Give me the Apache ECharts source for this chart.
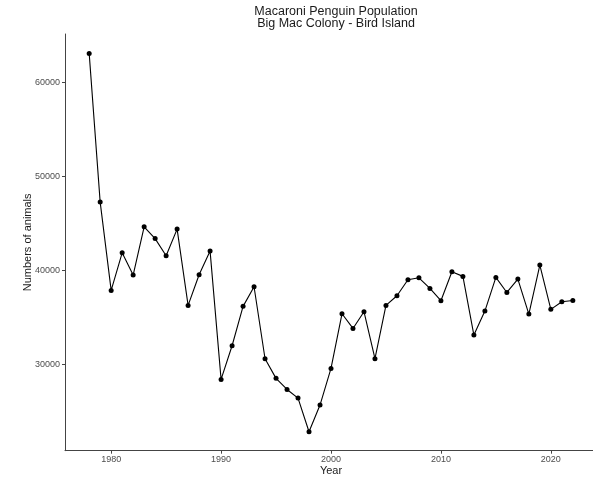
<!DOCTYPE html>
<html>
<head>
<meta charset="utf-8">
<script src="https://cdn.jsdelivr.net/npm/echarts@6/dist/echarts.min.js"></script>
<style>
  html, body { margin: 0; padding: 0; background: #ffffff; }
  #chart { width: 593px; height: 478px; }
</style>
</head>
<body>
<div id="chart"></div>
<script>
const years = [1978,1979,1980,1981,1982,1983,1984,1985,1986,1987,1988,1989,1990,1991,1992,1993,1994,1995,1996,1997,1998,1999,2000,2001,2002,2003,2004,2005,2006,2007,2008,2009,2010,2011,2012,2013,2014,2015,2016,2017,2018,2019,2020,2021,2022];
const counts = [63050,47230,37840,41840,39470,44600,43350,41520,44360,36240,39500,42020,28370,31950,36140,38230,30570,28480,27300,26380,22800,25640,29540,35350,33790,35570,30570,36240,37270,38970,39180,38050,36740,39820,39330,33090,35640,39220,37620,39040,35320,40530,35820,36630,36770];
const xTicks = [1980,1990,2000,2010,2020];
const yTicks = [30000,40000,50000,60000];
const titleLines = ['Macaroni Penguin Population', 'Big Mac Colony - Bird Island'];
const xName = 'Year';
const yName = 'Numbers of animals';

const FONT = '"Liberation Sans", Arial, sans-serif';
const chart = echarts.init(document.getElementById('chart'), null, { renderer: 'canvas' });

const pts = years.map((y, i) => [y, counts[i]]);

chart.setOption({
  animation: false,
  backgroundColor: '#ffffff',
  title: {
    text: titleLines.join('\n'),
    left: 331,
    top: 1,
    textAlign: 'center',
    textStyle: { fontFamily: FONT, fontSize: 12.5, fontWeight: 'normal', color: '#1a1a1a', lineHeight: 12 }
  },
  grid: { left: 65, right: -4, top: 34, bottom: 27.3, containLabel: false, outerBoundsMode: 'none' },
  xAxis: {
    type: 'value',
    min: 1975.8,
    max: 2024.2,
    name: xName,
    nameLocation: 'middle',
    nameGap: 15,
    nameMoveOverlap: false,
    nameTextStyle: { fontFamily: FONT, fontSize: 11, color: '#1a1a1a' },
    splitLine: { show: false },
    axisLine: { show: true, onZero: false, lineStyle: { color: '#444', width: 1 } },
    axisTick: { show: true, length: 3, customValues: xTicks, lineStyle: { color: '#444' } },
    axisLabel: { customValues: xTicks, margin: 4, fontFamily: FONT, fontSize: 9, color: '#4d4d4d', formatter: v => String(v) }
  },
  yAxis: {
    type: 'value',
    min: 20785,
    max: 65115,
    name: yName,
    nameLocation: 'middle',
    nameGap: 32,
    nameRotate: 90,
    nameMoveOverlap: false,
    nameTextStyle: { fontFamily: FONT, fontSize: 11, color: '#1a1a1a' },
    splitLine: { show: false },
    axisLine: { show: true, onZero: false, lineStyle: { color: '#444', width: 1 } },
    axisTick: { show: true, length: 3, customValues: yTicks, lineStyle: { color: '#444' } },
    axisLabel: { customValues: yTicks, margin: 5, fontFamily: FONT, fontSize: 9, color: '#4d4d4d', formatter: v => String(v) }
  },
  series: [{
    type: 'line',
    data: pts,
    symbol: 'circle',
    symbolSize: 5,
    showSymbol: true,
    lineStyle: { color: '#000', width: 1.1 },
    itemStyle: { color: '#000' },
    z: 3
  }]
});
</script>
</body>
</html>
